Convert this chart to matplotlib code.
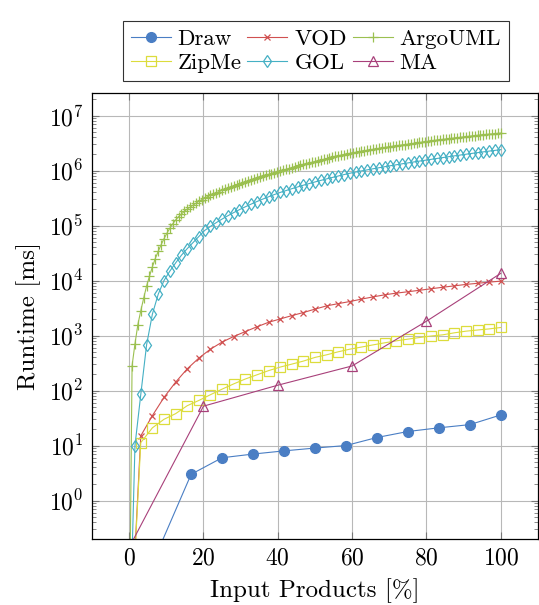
import matplotlib
matplotlib.use("Agg")
import matplotlib.pyplot as plt
from matplotlib.ticker import LogLocator, NullFormatter

plt.rcParams['font.family'] = 'serif'
plt.rcParams['font.serif'] = ['cmr10', 'DejaVu Serif']
plt.rcParams['mathtext.fontset'] = 'cm'
plt.rcParams['axes.formatter.use_mathtext'] = True

# x positions (input products in %)
x_draw = [0, 8.33, 16.67, 25, 33.33, 41.67, 50, 58.33, 66.67, 75, 83.33, 91.67, 100]
x_ma = [0, 20, 40, 60, 80, 100]
x_32 = [100 * i / 32 for i in range(33)]
x_64 = [100 * i / 64 for i in range(65)]
x_128 = [100 * i / 128 for i in range(129)]

# runtimes in ms
draw = [0.01, 0.15, 3, 6, 7, 8, 9, 10, 14, 18, 21, 24, 36]
ma = [0.14, 52, 125, 280, 1820, 13500]
vod = [0.001, 15, 35, 75, 142, 248, 389, 565, 760, 960, 1180, 1440, 1740, 2000, 2300,
       2620, 3020, 3460, 3800, 4150, 4590, 5040, 5500, 5900, 6250, 6650, 7080, 7550,
       8000, 8500, 8900, 9350, 9750]
zipme = [0.001, 11.3, 21, 30, 38, 53, 66, 84, 106, 132, 162, 193, 230, 267, 302, 343,
         400, 446, 506, 565, 617, 676, 737, 800, 860, 920, 980, 1030, 1120, 1200, 1260,
         1320, 1400]
gol = [0.001, 10, 85, 676, 2455, 5623, 10000, 14790, 20890, 28840, 38020, 48980, 63100,
       81280, 96380, 112980, 130920, 150660, 171790, 194540, 218780, 244910, 272900,
       301990, 332660, 365590, 399030, 431520, 466660, 502340, 540750, 579430, 619440,
       660690, 704690, 748170, 794330, 843330, 891250, 937560, 984010, 1.028e6, 1.076e6,
       1.122e6, 1.172e6, 1.222e6, 1.271e6, 1.324e6, 1.374e6, 1.429e6, 1.483e6, 1.538e6,
       1.596e6, 1.656e6, 1.718e6, 1.782e6, 1.845e6, 1.910e6, 1.977e6, 2.046e6, 2.113e6,
       2.183e6, 2.254e6, 2.323e6, 2.399e6]
argouml = [0.001, 282, 708, 1585, 2818, 4786, 7943, 12020, 17780, 25120, 33880, 44670,
           57540, 72440, 89130, 107150, 125890, 144540, 162180, 179890, 199530, 216270,
           234420, 254100, 275420, 295120, 316230, 334970, 354810, 373680, 393550, 414480,
           436520, 457090, 478630, 501190, 524810, 546610, 568850, 592270, 616600, 645650,
           676080, 707950, 741310, 767360, 794330, 822240, 851140, 881050, 912010, 944060,
           977240, 1.012e6, 1.047e6, 1.084e6, 1.122e6, 1.161e6, 1.202e6, 1.245e6, 1.288e6,
           1.326e6, 1.365e6, 1.405e6, 1.445e6, 1.493e6, 1.542e6, 1.589e6, 1.641e6, 1.694e6,
           1.750e6, 1.803e6, 1.862e6, 1.905e6, 1.950e6, 1.995e6, 2.042e6, 2.089e6, 2.138e6,
           2.188e6, 2.239e6, 2.284e6, 2.333e6, 2.377e6, 2.427e6, 2.477e6, 2.529e6, 2.576e6,
           2.630e6, 2.676e6, 2.723e6, 2.770e6, 2.818e6, 2.867e6, 2.917e6, 2.968e6, 3.020e6,
           3.072e6, 3.126e6, 3.180e6, 3.236e6, 3.292e6, 3.350e6, 3.408e6, 3.467e6, 3.516e6,
           3.569e6, 3.622e6, 3.673e6, 3.724e6, 3.784e6, 3.837e6, 3.890e6, 3.945e6, 4.004e6,
           4.064e6, 4.121e6, 4.178e6, 4.246e6, 4.305e6, 4.365e6, 4.416e6, 4.467e6, 4.519e6,
           4.571e6, 4.624e6, 4.677e6, 4.732e6, 4.786e6]

x_ticks = [0, 20, 40, 60, 80, 100]
y_ticks = [1, 10, 100, 1e3, 1e4, 1e5, 1e6, 1e7]

fig = plt.figure(figsize=(5.39, 6.05), dpi=100)
ax = fig.add_axes([0.1707, 0.1091, 0.8273, 0.7377])

lw = 0.8
h_draw, = ax.plot(x_draw, draw, color='#4a7ec4', lw=lw, marker='o', ms=7,
                  mfc='#4a7ec4', mec='#4a7ec4', label='Draw')
h_vod, = ax.plot(x_32, vod, color='#d05050', lw=lw, marker='x', ms=5, mew=0.9,
                 label='VOD')
h_argo, = ax.plot(x_128, argouml, color='#9bc050', lw=lw, marker='+', ms=7, mew=0.9,
                  label='ArgoUML')
h_zip, = ax.plot(x_32, zipme, color='#dcdc3c', lw=lw, marker='s', ms=7, mew=0.9,
                 mfc='none', label='ZipMe')
h_gol, = ax.plot(x_64, gol, color='#45b0c4', lw=lw, marker='d', ms=6, mew=0.9,
                 mfc='none', label='GOL')
h_ma, = ax.plot(x_ma, ma, color='#a8407a', lw=lw, marker='^', ms=6.5, mew=0.9,
                mfc='none', label='MA')

ax.set_yscale('log')
ax.set_xlim(-10, 110)
ax.set_ylim(0.2, 2.6e7)
ax.set_xticks(x_ticks)
ax.set_yticks(y_ticks)
ax.yaxis.set_minor_locator(LogLocator(base=10, subs=range(2, 10), numticks=20))
ax.yaxis.set_minor_formatter(NullFormatter())

ax.grid(True, which='major', color='#b8b8b8', lw=0.8)
ax.set_axisbelow(True)
ax.tick_params(which='both', direction='in', top=True, right=True, color='#777777',
               labelsize=17)
ax.tick_params(which='major', length=5, pad=6)
ax.tick_params(which='minor', length=3)
for s in ax.spines.values():
    s.set_linewidth(0.9)

ax.set_xlabel('Input Products [%]', fontsize=18, labelpad=6)
ax.set_ylabel('Runtime [ms]', fontsize=18, labelpad=6)

leg = fig.legend([h_draw, h_zip, h_vod, h_gol, h_argo, h_ma],
                 ['Draw', 'ZipMe', 'VOD', 'GOL', 'ArgoUML', 'MA'],
                 ncol=3, loc='upper center', bbox_to_anchor=(0.586, 0.985),
                 fontsize=16.5, frameon=True, fancybox=False, edgecolor='black',
                 handlelength=1.75, handletextpad=0.3, columnspacing=0.25,
                 labelspacing=0.2, borderpad=0.35)
leg.get_frame().set_linewidth(0.8)

fig.savefig('out.png', dpi=100)
